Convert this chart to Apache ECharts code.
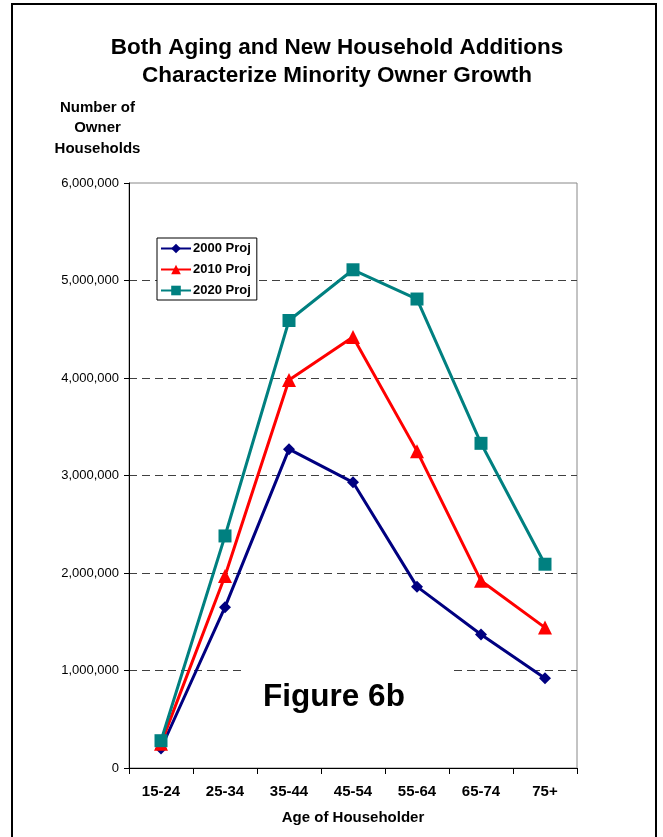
<!DOCTYPE html>
<html>
<head>
<meta charset="utf-8">
<script src="https://cdn.jsdelivr.net/npm/echarts@6/dist/echarts.min.js"></script>
<style>
  html, body { margin: 0; padding: 0; background: #fff; }
  #chart { width: 663px; height: 837px; }
</style>
</head>
<body>
<div id="chart"></div>
<script>
// Age groups of the householder
const ageGroups = ['15-24', '25-34', '35-44', '45-54', '55-64', '65-74', '75+'];

// Projected minority owner households by age group
const proj2000 = [200000, 1650000, 3270000, 2930000, 1860000, 1370000, 920000];
const proj2010 = [250000, 1970000, 3980000, 4420000, 3250000, 1920000, 1440000];
const proj2020 = [280000, 2380000, 4590000, 5110000, 4810000, 3330000, 2090000];

const seriesNames = ['2000 Proj', '2010 Proj', '2020 Proj'];

const FONT = '"Liberation Sans", Arial, sans-serif';

const chart = echarts.init(document.getElementById('chart'), null, { renderer: 'canvas' });

function lineSeries(name, data, color, symbol, size) {
  return {
    name: name,
    type: 'line',
    data: data,
    symbol: symbol,
    symbolSize: size,
    showAllSymbol: true,
    lineStyle: { color: color, width: 3 },
    itemStyle: { color: color },
    emphasis: { disabled: true },
    z: 3
  };
}

chart.setOption({
  animation: false,
  backgroundColor: '#ffffff',
  textStyle: { fontFamily: FONT },
  title: {
    text: 'Both Aging and New Household Additions\nCharacterize Minority Owner Growth',
    left: 332,
    textAlign: 'center',
    top: 29,
    textStyle: {
      fontFamily: FONT,
      fontSize: 22.5,
      fontWeight: 'bold',
      color: '#000',
      lineHeight: 28
    }
  },
  legend: {
    orient: 'vertical',
    left: 157,
    top: 238,
    padding: [4, 6, 3, 3],
    itemGap: 8,
    itemWidth: 30,
    itemHeight: 12,
    backgroundColor: '#fff',
    borderColor: '#000',
    borderWidth: 1,
    selectedMode: false,
    data: seriesNames,
    textStyle: { fontFamily: FONT, fontSize: 13, fontWeight: 'bold', color: '#000', padding: [0, 0, 0, -3] }
  },
  grid: {
    left: 129,
    right: 86,
    top: 183,
    bottom: 69,
    show: true,
    borderColor: '#888',
    borderWidth: 1,
    backgroundColor: 'transparent'
  },
  xAxis: {
    type: 'category',
    data: ageGroups,
    boundaryGap: true,
    axisLine: { lineStyle: { color: '#000', width: 1 } },
    axisTick: { show: true, interval: 0, length: 6, lineStyle: { color: '#000' } },
    axisLabel: {
      interval: 0,
      margin: 16,
      fontFamily: FONT,
      fontSize: 15,
      fontWeight: 'bold',
      color: '#000'
    },
    name: 'Age of Householder',
    nameLocation: 'middle',
    nameGap: 42,
    nameTextStyle: { fontFamily: FONT, fontSize: 15, fontWeight: 'bold', color: '#000' }
  },
  yAxis: {
    type: 'value',
    min: 0,
    max: 6000000,
    interval: 1000000,
    axisLine: { show: true, lineStyle: { color: '#000', width: 1 } },
    axisTick: { show: true, length: 5, lineStyle: { color: '#000' } },
    axisLabel: {
      margin: 10,
      fontFamily: FONT,
      fontSize: 13,
      color: '#000',
      formatter: v => v.toLocaleString('en-US')
    },
    splitLine: {
      show: true,
      showMinLine: false,
      showMaxLine: false,
      lineStyle: { color: '#404040', width: 1, type: [8, 5] }
    }
  },
  graphic: [
    {
      // outer frame
      type: 'rect',
      shape: { x: 12, y: 4, width: 644, height: 840 },
      style: { fill: 'none', stroke: '#000', lineWidth: 2 },
      z: 0,
      silent: true
    },
    {
      type: 'text',
      x: 97.5,
      y: 97.5,
      style: {
        text: 'Number of\nOwner\nHouseholds',
        textAlign: 'center',
        fontFamily: FONT,
        fontSize: 15,
        fontWeight: 'bold',
        lineHeight: 20.5,
        fill: '#000'
      },
      silent: true
    },
    {
      // label box that masks the grid line behind it
      type: 'rect',
      shape: { x: 243, y: 662, width: 211, height: 60 },
      style: { fill: '#fff', stroke: 'none' },
      z: 5,
      silent: true
    },
    {
      type: 'text',
      x: 334,
      y: 697,
      style: {
        text: 'Figure 6b',
        textAlign: 'center',
        textVerticalAlign: 'middle',
        fontFamily: FONT,
        fontSize: 31.5,
        fontWeight: 'bold',
        fill: '#000'
      },
      z: 6,
      silent: true
    }
  ],
  series: [
    lineSeries(seriesNames[0], proj2000, '#000080', 'diamond', 12),
    lineSeries(seriesNames[1], proj2010, '#ff0000', 'triangle', 14),
    lineSeries(seriesNames[2], proj2020, '#008080', 'rect', 13)
  ]
});
</script>
</body>
</html>
